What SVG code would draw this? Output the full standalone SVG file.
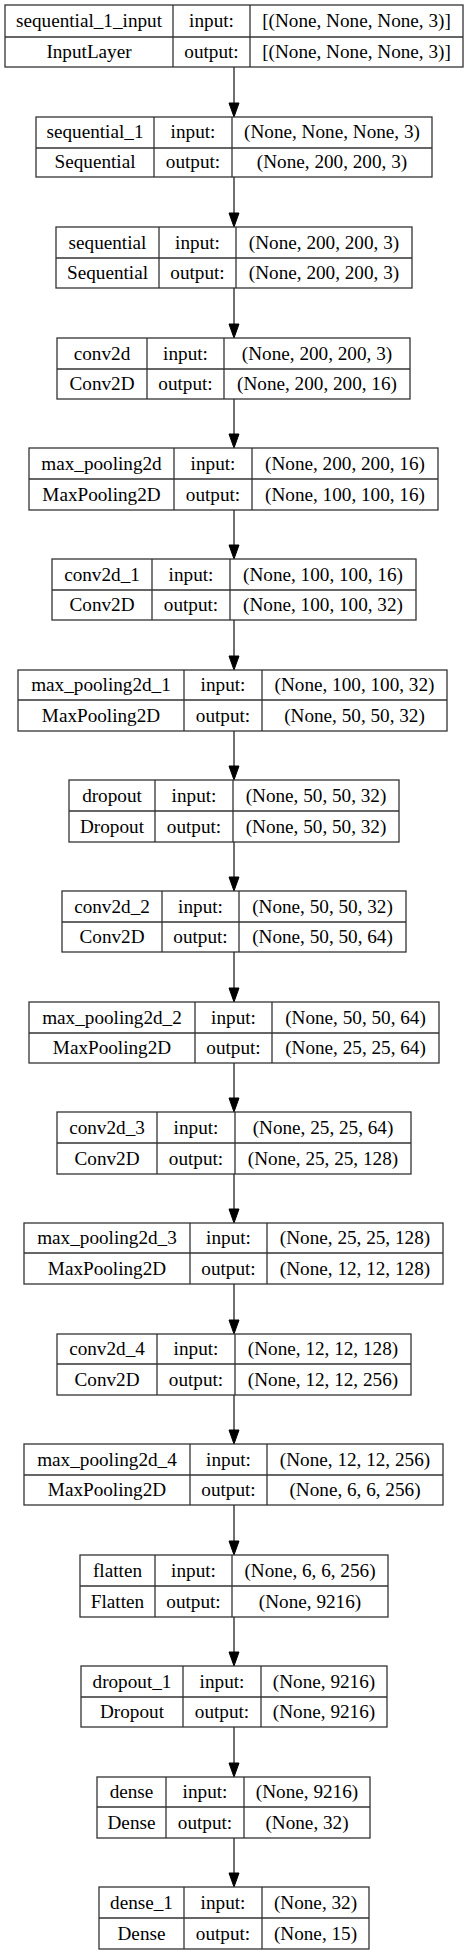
<svg xmlns="http://www.w3.org/2000/svg" width="468" height="1955" viewBox="0 0 468 1955">
<style>
.b{fill:#fff;stroke:#333;stroke-width:1.3}
.d{stroke:#333;stroke-width:1.3}
text{font-family:"Liberation Serif","Times New Roman",serif;font-size:19.2px;fill:#000;text-anchor:middle}
.e{stroke:#333;stroke-width:1.4;fill:none}
.h{fill:#000;stroke:#000;stroke-width:1}
</style>
<rect x="0" y="0" width="468" height="1955" fill="#fff"/>
<g id="connectors">
<line class="e" x1="234" y1="67" x2="234" y2="103"/><polygon class="h" points="229,103 239,103 234,117"/>
<line class="e" x1="234" y1="177" x2="234" y2="213"/><polygon class="h" points="229,213 239,213 234,227"/>
<line class="e" x1="234" y1="288" x2="234" y2="324"/><polygon class="h" points="229,324 239,324 234,338"/>
<line class="e" x1="234" y1="399" x2="234" y2="434"/><polygon class="h" points="229,434 239,434 234,448"/>
<line class="e" x1="234" y1="510" x2="234" y2="545"/><polygon class="h" points="229,545 239,545 234,559"/>
<line class="e" x1="234" y1="620" x2="234" y2="656"/><polygon class="h" points="229,656 239,656 234,670"/>
<line class="e" x1="234" y1="731" x2="234" y2="766"/><polygon class="h" points="229,766 239,766 234,780"/>
<line class="e" x1="234" y1="842" x2="234" y2="877"/><polygon class="h" points="229,877 239,877 234,891"/>
<line class="e" x1="234" y1="952" x2="234" y2="988"/><polygon class="h" points="229,988 239,988 234,1002"/>
<line class="e" x1="234" y1="1063" x2="234" y2="1098"/><polygon class="h" points="229,1098 239,1098 234,1112"/>
<line class="e" x1="234" y1="1174" x2="234" y2="1209"/><polygon class="h" points="229,1209 239,1209 234,1223"/>
<line class="e" x1="234" y1="1284" x2="234" y2="1320"/><polygon class="h" points="229,1320 239,1320 234,1334"/>
<line class="e" x1="234" y1="1395" x2="234" y2="1430"/><polygon class="h" points="229,1430 239,1430 234,1444"/>
<line class="e" x1="234" y1="1505" x2="234" y2="1541"/><polygon class="h" points="229,1541 239,1541 234,1555"/>
<line class="e" x1="234" y1="1617" x2="234" y2="1652"/><polygon class="h" points="229,1652 239,1652 234,1666"/>
<line class="e" x1="234" y1="1727" x2="234" y2="1763"/><polygon class="h" points="229,1763 239,1763 234,1777"/>
<line class="e" x1="234" y1="1838" x2="234" y2="1873"/><polygon class="h" points="229,1873 239,1873 234,1887"/>
</g>
<g id="n0">
<rect class="b" x="5" y="5" width="458" height="62"/>
<line class="d" x1="5" y1="37" x2="463" y2="37"/><line class="d" x1="173" y1="5" x2="173" y2="67"/><line class="d" x1="250" y1="5" x2="250" y2="67"/>
<text x="89" y="27">sequential_1_input</text><text x="211.5" y="27">input:</text><text x="356.5" y="27">[(None, None, None, 3)]</text>
<text x="89" y="58">InputLayer</text><text x="211.5" y="58">output:</text><text x="356.5" y="58">[(None, None, None, 3)]</text>
</g>
<g id="n1">
<rect class="b" x="36" y="117" width="396" height="60"/>
<line class="d" x1="36" y1="148" x2="432" y2="148"/><line class="d" x1="154" y1="117" x2="154" y2="177"/><line class="d" x1="232" y1="117" x2="232" y2="177"/>
<text x="95" y="138">sequential_1</text><text x="193" y="138">input:</text><text x="332" y="138">(None, None, None, 3)</text>
<text x="95" y="168">Sequential</text><text x="193" y="168">output:</text><text x="332" y="168">(None, 200, 200, 3)</text>
</g>
<g id="n2">
<rect class="b" x="56" y="227" width="356" height="61"/>
<line class="d" x1="56" y1="258" x2="412" y2="258"/><line class="d" x1="159" y1="227" x2="159" y2="288"/><line class="d" x1="236" y1="227" x2="236" y2="288"/>
<text x="107.5" y="248.5">sequential</text><text x="197.5" y="248.5">input:</text><text x="324" y="248.5">(None, 200, 200, 3)</text>
<text x="107.5" y="279">Sequential</text><text x="197.5" y="279">output:</text><text x="324" y="279">(None, 200, 200, 3)</text>
</g>
<g id="n3">
<rect class="b" x="57" y="338" width="353" height="61"/>
<line class="d" x1="57" y1="369" x2="410" y2="369"/><line class="d" x1="147" y1="338" x2="147" y2="399"/><line class="d" x1="224" y1="338" x2="224" y2="399"/>
<text x="102" y="359.5">conv2d</text><text x="185.5" y="359.5">input:</text><text x="317" y="359.5">(None, 200, 200, 3)</text>
<text x="102" y="390">Conv2D</text><text x="185.5" y="390">output:</text><text x="317" y="390">(None, 200, 200, 16)</text>
</g>
<g id="n4">
<rect class="b" x="29" y="448" width="409" height="62"/>
<line class="d" x1="29" y1="479" x2="438" y2="479"/><line class="d" x1="174" y1="448" x2="174" y2="510"/><line class="d" x1="252" y1="448" x2="252" y2="510"/>
<text x="101.5" y="469.5">max_pooling2d</text><text x="213" y="469.5">input:</text><text x="345" y="469.5">(None, 200, 200, 16)</text>
<text x="101.5" y="500.5">MaxPooling2D</text><text x="213" y="500.5">output:</text><text x="345" y="500.5">(None, 100, 100, 16)</text>
</g>
<g id="n5">
<rect class="b" x="52" y="559" width="364" height="61"/>
<line class="d" x1="52" y1="590" x2="416" y2="590"/><line class="d" x1="152" y1="559" x2="152" y2="620"/><line class="d" x1="230" y1="559" x2="230" y2="620"/>
<text x="102" y="580.5">conv2d_1</text><text x="191" y="580.5">input:</text><text x="323" y="580.5">(None, 100, 100, 16)</text>
<text x="102" y="611">Conv2D</text><text x="191" y="611">output:</text><text x="323" y="611">(None, 100, 100, 32)</text>
</g>
<g id="n6">
<rect class="b" x="18" y="670" width="429" height="61"/>
<line class="d" x1="18" y1="700" x2="447" y2="700"/><line class="d" x1="184" y1="670" x2="184" y2="731"/><line class="d" x1="262" y1="670" x2="262" y2="731"/>
<text x="101" y="691">max_pooling2d_1</text><text x="223" y="691">input:</text><text x="354.5" y="691">(None, 100, 100, 32)</text>
<text x="101" y="721.5">MaxPooling2D</text><text x="223" y="721.5">output:</text><text x="354.5" y="721.5">(None, 50, 50, 32)</text>
</g>
<g id="n7">
<rect class="b" x="69" y="780" width="330" height="62"/>
<line class="d" x1="69" y1="811" x2="399" y2="811"/><line class="d" x1="155" y1="780" x2="155" y2="842"/><line class="d" x1="233" y1="780" x2="233" y2="842"/>
<text x="112" y="801.5">dropout</text><text x="194" y="801.5">input:</text><text x="316" y="801.5">(None, 50, 50, 32)</text>
<text x="112" y="832.5">Dropout</text><text x="194" y="832.5">output:</text><text x="316" y="832.5">(None, 50, 50, 32)</text>
</g>
<g id="n8">
<rect class="b" x="62" y="891" width="344" height="61"/>
<line class="d" x1="62" y1="922" x2="406" y2="922"/><line class="d" x1="162" y1="891" x2="162" y2="952"/><line class="d" x1="239" y1="891" x2="239" y2="952"/>
<text x="112" y="912.5">conv2d_2</text><text x="200.5" y="912.5">input:</text><text x="322.5" y="912.5">(None, 50, 50, 32)</text>
<text x="112" y="943">Conv2D</text><text x="200.5" y="943">output:</text><text x="322.5" y="943">(None, 50, 50, 64)</text>
</g>
<g id="n9">
<rect class="b" x="29" y="1002" width="410" height="61"/>
<line class="d" x1="29" y1="1033" x2="439" y2="1033"/><line class="d" x1="195" y1="1002" x2="195" y2="1063"/><line class="d" x1="272" y1="1002" x2="272" y2="1063"/>
<text x="112" y="1023.5">max_pooling2d_2</text><text x="233.5" y="1023.5">input:</text><text x="355.5" y="1023.5">(None, 50, 50, 64)</text>
<text x="112" y="1054">MaxPooling2D</text><text x="233.5" y="1054">output:</text><text x="355.5" y="1054">(None, 25, 25, 64)</text>
</g>
<g id="n10">
<rect class="b" x="57" y="1112" width="354" height="62"/>
<line class="d" x1="57" y1="1143" x2="411" y2="1143"/><line class="d" x1="157" y1="1112" x2="157" y2="1174"/><line class="d" x1="235" y1="1112" x2="235" y2="1174"/>
<text x="107" y="1133.5">conv2d_3</text><text x="196" y="1133.5">input:</text><text x="323" y="1133.5">(None, 25, 25, 64)</text>
<text x="107" y="1164.5">Conv2D</text><text x="196" y="1164.5">output:</text><text x="323" y="1164.5">(None, 25, 25, 128)</text>
</g>
<g id="n11">
<rect class="b" x="24" y="1223" width="419" height="61"/>
<line class="d" x1="24" y1="1253" x2="443" y2="1253"/><line class="d" x1="190" y1="1223" x2="190" y2="1284"/><line class="d" x1="267" y1="1223" x2="267" y2="1284"/>
<text x="107" y="1244">max_pooling2d_3</text><text x="228.5" y="1244">input:</text><text x="355" y="1244">(None, 25, 25, 128)</text>
<text x="107" y="1274.5">MaxPooling2D</text><text x="228.5" y="1274.5">output:</text><text x="355" y="1274.5">(None, 12, 12, 128)</text>
</g>
<g id="n12">
<rect class="b" x="57" y="1334" width="354" height="61"/>
<line class="d" x1="57" y1="1364" x2="411" y2="1364"/><line class="d" x1="157" y1="1334" x2="157" y2="1395"/><line class="d" x1="235" y1="1334" x2="235" y2="1395"/>
<text x="107" y="1355">conv2d_4</text><text x="196" y="1355">input:</text><text x="323" y="1355">(None, 12, 12, 128)</text>
<text x="107" y="1385.5">Conv2D</text><text x="196" y="1385.5">output:</text><text x="323" y="1385.5">(None, 12, 12, 256)</text>
</g>
<g id="n13">
<rect class="b" x="24" y="1444" width="419" height="61"/>
<line class="d" x1="24" y1="1475" x2="443" y2="1475"/><line class="d" x1="190" y1="1444" x2="190" y2="1505"/><line class="d" x1="267" y1="1444" x2="267" y2="1505"/>
<text x="107" y="1465.5">max_pooling2d_4</text><text x="228.5" y="1465.5">input:</text><text x="355" y="1465.5">(None, 12, 12, 256)</text>
<text x="107" y="1496">MaxPooling2D</text><text x="228.5" y="1496">output:</text><text x="355" y="1496">(None, 6, 6, 256)</text>
</g>
<g id="n14">
<rect class="b" x="80" y="1555" width="308" height="62"/>
<line class="d" x1="80" y1="1586" x2="388" y2="1586"/><line class="d" x1="155" y1="1555" x2="155" y2="1617"/><line class="d" x1="232" y1="1555" x2="232" y2="1617"/>
<text x="117.5" y="1576.5">flatten</text><text x="193.5" y="1576.5">input:</text><text x="310" y="1576.5">(None, 6, 6, 256)</text>
<text x="117.5" y="1607.5">Flatten</text><text x="193.5" y="1607.5">output:</text><text x="310" y="1607.5">(None, 9216)</text>
</g>
<g id="n15">
<rect class="b" x="81" y="1666" width="306" height="61"/>
<line class="d" x1="81" y1="1697" x2="387" y2="1697"/><line class="d" x1="183" y1="1666" x2="183" y2="1727"/><line class="d" x1="261" y1="1666" x2="261" y2="1727"/>
<text x="132" y="1687.5">dropout_1</text><text x="222" y="1687.5">input:</text><text x="324" y="1687.5">(None, 9216)</text>
<text x="132" y="1718">Dropout</text><text x="222" y="1718">output:</text><text x="324" y="1718">(None, 9216)</text>
</g>
<g id="n16">
<rect class="b" x="97" y="1777" width="273" height="61"/>
<line class="d" x1="97" y1="1807" x2="370" y2="1807"/><line class="d" x1="166" y1="1777" x2="166" y2="1838"/><line class="d" x1="244" y1="1777" x2="244" y2="1838"/>
<text x="131.5" y="1798">dense</text><text x="205" y="1798">input:</text><text x="307" y="1798">(None, 9216)</text>
<text x="131.5" y="1828.5">Dense</text><text x="205" y="1828.5">output:</text><text x="307" y="1828.5">(None, 32)</text>
</g>
<g id="n17">
<rect class="b" x="99" y="1887" width="270" height="62"/>
<line class="d" x1="99" y1="1918" x2="369" y2="1918"/><line class="d" x1="184" y1="1887" x2="184" y2="1949"/><line class="d" x1="262" y1="1887" x2="262" y2="1949"/>
<text x="141.5" y="1908.5">dense_1</text><text x="223" y="1908.5">input:</text><text x="315.5" y="1908.5">(None, 32)</text>
<text x="141.5" y="1939.5">Dense</text><text x="223" y="1939.5">output:</text><text x="315.5" y="1939.5">(None, 15)</text>
</g>
</svg>
